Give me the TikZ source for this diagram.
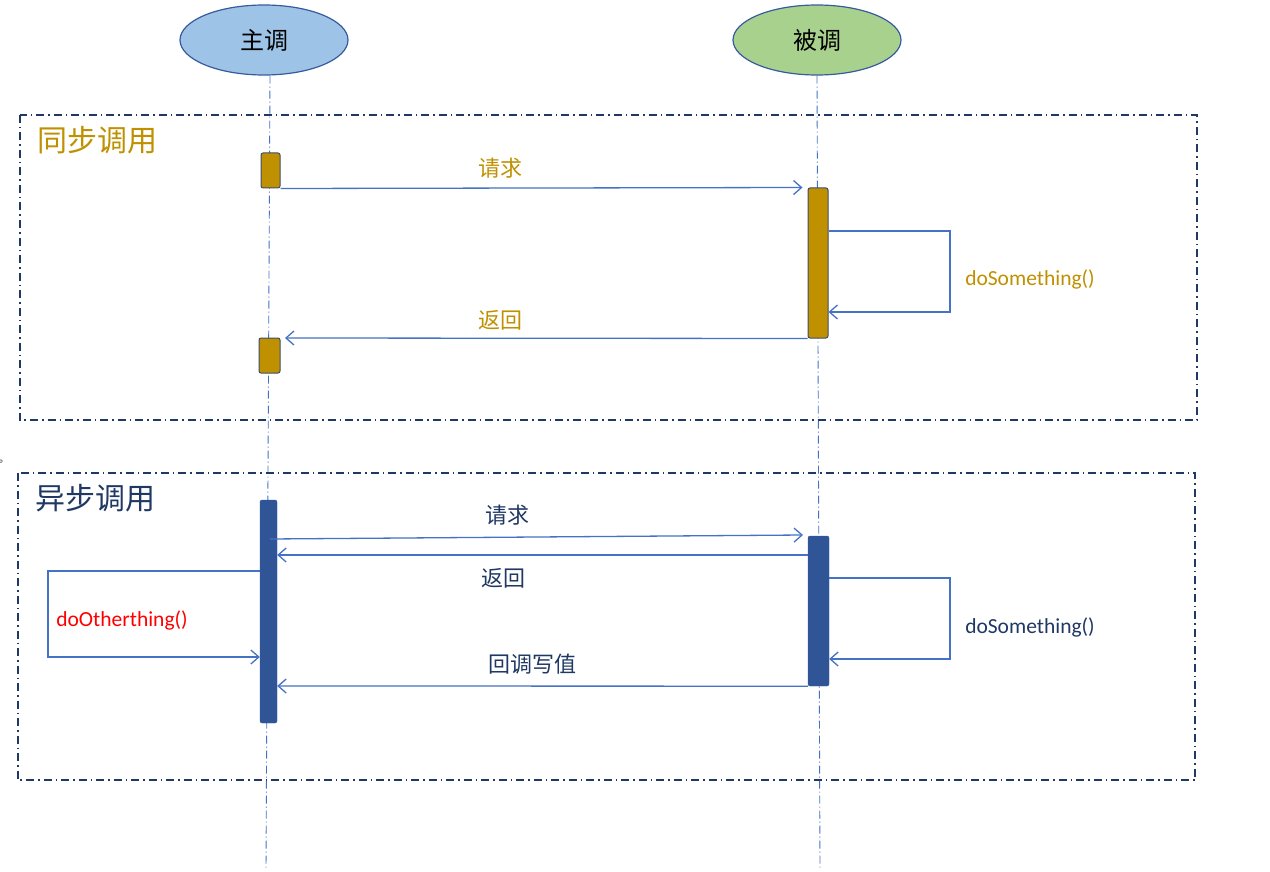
\documentclass[tikz,border=0pt]{standalone}
\usepackage{fontspec}
\setmainfont{Carlito}
\newfontfamily\cjk{Noto Sans CJK SC}
\usetikzlibrary{arrows.meta,shapes.geometric}
\definecolor{gold}{HTML}{BF9000}
\definecolor{navy}{HTML}{2F5597}
\definecolor{dnavy}{HTML}{203864}
\definecolor{ln}{HTML}{4472C4}
\tikzset{
 x=1pt,y=-1pt,
 actor/.style={ellipse,draw=ln!80!black,line width=1.2pt,minimum width=168pt,minimum height=70pt,font=\cjk\fontsize{24}{24}\selectfont},
 life/.style={ln,dash pattern=on 8pt off 3pt on 1pt off 3pt,line width=0.9pt},
 frame/.style={dnavy,dash pattern=on 8pt off 4pt on 1.5pt off 4pt,line width=1.2pt},
 msg/.style={ln,line width=1.3pt,-{Straight Barb[length=8pt,width=14pt]}},
 lbl/.style={font=\cjk\fontsize{22}{22}\selectfont},
 small/.style={font=\fontsize{21.5}{21.5}\selectfont},
 actg/.style={draw=dnavy!70!gray,fill=gold,rounded corners=2pt,line width=1pt},
 actb/.style={draw=navy,fill=navy,rounded corners=2pt},
 ttl/.style={anchor=west,font=\cjk\fontsize{30}{30}\selectfont},
}
\begin{document}
\begin{tikzpicture}
\useasboundingbox (0,0) rectangle (1270,872);
\node[actor,fill={rgb,255:red,157;green,195;blue,230}] (A) at (264,40) {主调};
\node[actor,fill={rgb,255:red,169;green,209;blue,142}] (B) at (817,40) {被调};
\coordinate (Aend) at (266,870);
\coordinate (Bend) at (820,870);
\draw[life] (A.south) ++(6,0) -- (Aend);
\draw[life] (B.south) -- (Bend);
% frames
\draw[frame] (20,115) rectangle (1197,420);
\draw[frame] (18,473) rectangle (1195,780);
\node[ttl,text=gold] (t1) at (34,140) {同步调用};
\node[ttl,text=dnavy] (t2) at (32,498) {异步调用};
\node (dot) at (4,462) {\cjk 。};
% sync
\node[actg,minimum width=19pt,minimum height=35pt,inner sep=0pt] (s1) at (270.5,170.5) {};
\node[actg,minimum width=20pt,minimum height=150pt,inner sep=0pt] (s2) at (818,263) {};
\node[actg,minimum width=21pt,minimum height=35pt,inner sep=0pt] (s3) at (269.5,355.5) {};
\draw[msg] (s1.south east) -- ([xshift=-5pt]s2.north west);
\node[lbl,text=gold] (l1) at (500,168) {请求};
\coordinate (sl1) at (950,231);
\coordinate (sl2) at (950,312);
\draw[msg] (s2.east |- sl1) -- (sl1) -- (sl2) -- (s2.east |- sl2);
\node[small,text=gold] (l2) at (1030,279) {doSomething()};
\draw[msg] (s2.south west) -- (285,338);
\node[lbl,text=gold] (l3) at (500,320) {返回};
% async
\node[actb,minimum width=17pt,minimum height=223pt,inner sep=0pt] (a1) at (268.5,611.5) {};
\node[actb,minimum width=21pt,minimum height=150pt,inner sep=0pt] (a2) at (818.5,611) {};
\coordinate (r1) at (270,539);
\coordinate (r2) at (803,535);
\draw[msg] (r1) -- (r2);
\node[lbl,text=dnavy] (l4) at (507,515) {请求};
\draw[msg] (a2.west |- 0,555) -- (a1.east |- 0,555);
\node[lbl,text=dnavy] (l5) at (503,578) {返回};
\coordinate (ol1) at (48,571);
\coordinate (ol2) at (48,657);
\draw[msg] (a1.west |- ol1) -- (ol1) -- (ol2) -- (a1.west |- ol2);
\node[small,text=red] (l6) at (122,620) {doOtherthing()};
\coordinate (al1) at (950,578);
\coordinate (al2) at (950,659);
\draw[msg] (a2.east |- al1) -- (al1) -- (al2) -- (a2.east |- al2);
\node[small,text=dnavy] (l7) at (1030,627) {doSomething()};
\draw[msg] (a2.south west) -- (a1.east |- 0,686);
\node[lbl,text=dnavy] (l8) at (532,664) {回调写值};
\end{tikzpicture}
\end{document}
